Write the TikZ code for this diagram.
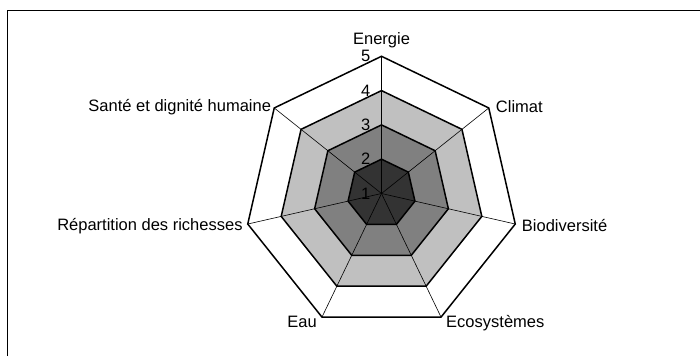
\documentclass[tikz,border=0pt]{standalone}
\usepackage{fontspec}
\setmainfont{Liberation Sans}
\definecolor{lgray}{HTML}{C0C0C0}
\definecolor{mgray}{HTML}{808080}
\definecolor{dgray}{HTML}{333333}
\tikzset{
  ring/.style={line width=1.5pt, line join=miter},
  spoke/.style={line width=0.6pt},
  lbl/.style={inner sep=0pt, font=\fontsize{16.5}{19}\selectfont},
}
\begin{document}
\begin{tikzpicture}[x=1pt,y=1pt]
\useasboundingbox (0,0) rectangle (700,356);
\draw[line width=0.8pt] (7,0) -- (7,346) -- (700,346);
\begin{scope}[shift={(381.5,162.5)}]
\coordinate (c) at (0,0);
\foreach \i in {0,...,6} {
  \foreach \l in {2,...,5} {
    \coordinate (v\l-\i) at ({90-\i*360/7}:{(\l-1)*34.3});
  }
}
\foreach \l/\col in {5/white,4/lgray,3/mgray,2/dgray}
  \filldraw[ring, fill=\col] (v\l-0) -- (v\l-1) -- (v\l-2) -- (v\l-3) -- (v\l-4) -- (v\l-5) -- (v\l-6) -- cycle;
\foreach \i in {0,...,6}
  \draw[spoke] (c) -- (v5-\i);
% scale
\node[lbl, anchor=base east] (n1) at (-11,-5.7) {1};
\foreach \l in {2,...,5}
  \node[lbl, anchor=base east] (n\l) at ([shift={(-11,-5.7)}]v\l-0) {\l};
\end{scope}
% axis labels
\node[lbl, anchor=base] (energie) at ([yshift=12pt]v5-0) {Energie};
\node[lbl, anchor=base west] (climat) at ([shift={(7,-5)}]v5-1) {Climat};
\node[lbl, anchor=base west] (biodiv) at ([shift={(6.5,-7.5)}]v5-2) {Biodiversité};
\node[lbl, anchor=base west] (ecosys) at ([shift={(5,-10)}]v5-3) {Ecosystèmes};
\node[lbl, anchor=base east] (eau) at ([shift={(-5,-10)}]v5-4) {Eau};
\node[lbl, anchor=base east] (richesses) at ([shift={(-5,-6)}]v5-5) {Répartition des richesses};
\node[lbl, anchor=base east] (sante) at ([shift={(-3,-4)}]v5-6) {Santé et dignité humaine};
\end{tikzpicture}
\end{document}
